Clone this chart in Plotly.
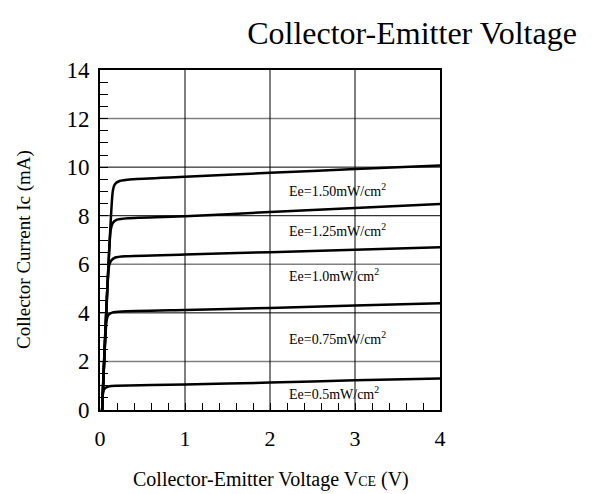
import plotly.graph_objects as go

# Data (VCE in V, Ic in mA)
v_150 = [0.025, 0.15, 0.175, 0.23, 0.38, 1.0, 2.0, 3.0, 4.0]
i_150 = [0.0, 9.0, 9.3, 9.43, 9.5, 9.6, 9.77, 9.92, 10.07]
v_125 = [0.025, 0.125, 0.15, 0.20, 0.33, 1.0, 2.0, 3.0, 4.0]
i_125 = [0.0, 7.4, 7.7, 7.84, 7.9, 7.98, 8.15, 8.32, 8.48]
v_100 = [0.025, 0.105, 0.13, 0.18, 0.30, 1.0, 2.0, 3.0, 4.0]
i_100 = [0.0, 5.9, 6.15, 6.28, 6.33, 6.4, 6.5, 6.6, 6.7]
v_075 = [0.025, 0.078, 0.10, 0.15, 0.26, 1.0, 2.0, 3.0, 4.0]
i_075 = [0.0, 3.7, 3.92, 4.02, 4.06, 4.12, 4.2, 4.3, 4.4]
v_050 = [0.025, 0.037, 0.06, 0.11, 0.20, 1.0, 2.0, 3.0, 4.0]
i_050 = [0.0, 0.75, 0.9, 0.98, 1.0, 1.05, 1.13, 1.22, 1.3]

labels = ["Ee=1.50mW/cm<sup>2</sup>", "Ee=1.25mW/cm<sup>2</sup>", "Ee=1.0mW/cm<sup>2</sup>",
          "Ee=0.75mW/cm<sup>2</sup>", "Ee=0.5mW/cm<sup>2</sup>"]
label_x = [2.2, 2.2, 2.2, 2.2, 2.2]
label_y = [9.05, 7.4, 5.55, 2.95, 0.72]

x_ticks = [0, 1, 2, 3, 4]
y_ticks = [0, 2, 4, 6, 8, 10, 12, 14]
y_grid_gray = [2, 6, 12]
y_grid_black = [4, 8, 10]
x_grid = [1, 2, 3]

x_title = "Collector-Emitter Voltage V<span style='font-size:14px'>CE</span> (V)"
y_title = "Collector Current Ic (mA)"
main_title = "Collector-Emitter Voltage"

FONT = "Liberation Serif, Times New Roman, serif"

fig = go.Figure()
for v, i in [(v_150, i_150), (v_125, i_125), (v_100, i_100), (v_075, i_075), (v_050, i_050)]:
    fig.add_trace(go.Scatter(x=v, y=i, mode="lines",
                             line=dict(color="black", width=2.5, shape="spline", smoothing=0.5),
                             showlegend=False, hoverinfo="skip"))

shapes = []
for y in y_grid_gray:
    shapes.append(dict(type="line", xref="x", yref="y", x0=0, x1=4, y0=y, y1=y,
                       line=dict(color="#808080", width=1.5), layer="below"))
for y in y_grid_black:
    shapes.append(dict(type="line", xref="x", yref="y", x0=0, x1=4, y0=y, y1=y,
                       line=dict(color="black", width=1), layer="below"))
for x in x_grid:
    shapes.append(dict(type="line", xref="x", yref="y", x0=x, x1=x, y0=0, y1=14,
                       line=dict(color="black", width=1), layer="below"))

annotations = []
for t, x, y in zip(labels, label_x, label_y):
    annotations.append(dict(x=x, y=y, xref="x", yref="y", text=t, showarrow=False,
                            xanchor="left", yanchor="middle",
                            font=dict(family=FONT, size=14, color="black")))
annotations.append(dict(x=0.503, y=-0.203, xref="paper", yref="paper", text=x_title,
                        showarrow=False, xanchor="center", yanchor="middle",
                        font=dict(family=FONT, size=20, color="black")))
annotations.append(dict(x=-0.2235, y=0.4706, xref="paper", yref="paper", text=y_title,
                        showarrow=False, xanchor="center", yanchor="middle", textangle=-90,
                        font=dict(family=FONT, size=19, color="black")))

fig.update_layout(
    width=595, height=494,
    margin=dict(l=92, r=163, t=62, b=92, autoexpand=False),
    paper_bgcolor="white", plot_bgcolor="white",
    font=dict(family=FONT, color="black"),
    title=dict(text=main_title, xref="container", x=0.679, xanchor="center",
               yref="container", y=0.949, yanchor="middle",
               font=dict(family=FONT, size=32, color="black")),
    shapes=shapes, annotations=annotations,
    xaxis=dict(range=[0, 4], tickvals=x_ticks, showgrid=False, zeroline=False,
               showline=True, linewidth=2, linecolor="black", mirror=True,
               ticks="inside", ticklen=7, tickcolor="black", tickwidth=1,
               ticklabelstandoff=8,
               minor=dict(dtick=0.2, ticks="inside", ticklen=7, tickcolor="black", tickwidth=1),
               tickfont=dict(family=FONT, size=22, color="black")),
    yaxis=dict(range=[0, 14], tickvals=y_ticks, showgrid=False, zeroline=False,
               showline=True, linewidth=2, linecolor="black", mirror=True,
               ticks="inside", ticklen=8, tickcolor="black", tickwidth=1,
               ticklabelstandoff=4,
               minor=dict(dtick=0.5, ticks="inside", ticklen=8, tickcolor="black", tickwidth=1),
               tickfont=dict(family=FONT, size=23, color="black")),
)

fig.write_html("out.html")
